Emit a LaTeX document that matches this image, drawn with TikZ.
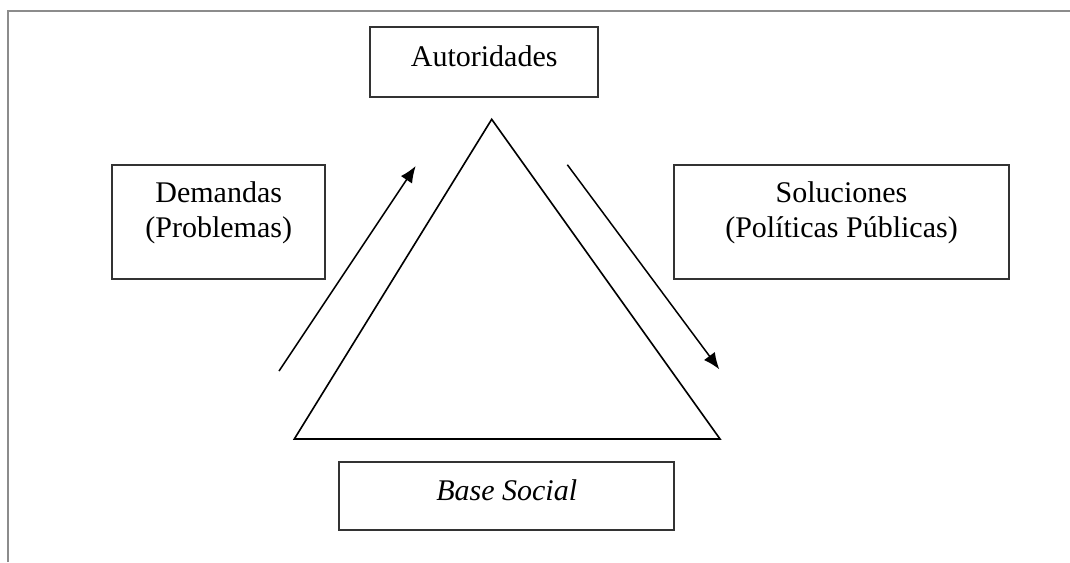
\documentclass[tikz,border=0pt]{standalone}
\usepackage{fontspec}
\setmainfont{Liberation Serif}
\usepackage{tikz}
\usetikzlibrary{arrows.meta,positioning}

\begin{document}
\begin{tikzpicture}[x=0.4pt,y=-0.4pt,>={Latex[length=6.6pt,width=5.4pt]},
                    every node/.append style={font=\fontsize{12}{14}\selectfont,align=center}]
  \tikzstyle{caja}=[draw=black!80,line width=0.8pt,inner sep=0pt]
  \tikzstyle{arriba}=[label={[anchor=north,inner sep=0pt,yshift=-6.8pt]north:#1}]
  \useasboundingbox (0,0) rectangle (1070,562);

  % marco
  \draw[gray!90,line width=0.9pt] (8,562) -- (8,11) -- (1070,11);

  \node[caja,minimum width=91.3pt,minimum height=27.8pt,text depth=5pt] (A) at (484.2,62) {Autoridades};
  \node[caja,minimum width=85.1pt,minimum height=45.6pt,arriba={Demandas\\(Problemas)}] (D) at (218.7,222) {};
  \node[caja,minimum width=134pt,minimum height=45.7pt,arriba={Soluciones\\(Políticas Públicas)}] (S) at (841.5,222.2) {};
  \node[caja,minimum width=134.1pt,minimum height=27.2pt,text depth=5pt] (B) at (506.7,496) {\textit{Base Social}};

  \coordinate (T) at (491.7,119.3);
  \coordinate (L) at (294.3,439);
  \coordinate (R) at (720,439);
  \draw[line width=0.65pt] (T) -- (L) -- (R) -- cycle;

  \coordinate (D1) at (279,371);
  \coordinate (D2) at (415.7,166);
  \coordinate (S1) at (567.3,164.7);
  \coordinate (S2) at (719.3,369.3);
  \draw[->,line width=0.6pt] (D1) -- (D2);
  \draw[->,line width=0.6pt] (S1) -- (S2);
\end{tikzpicture}
\end{document}
